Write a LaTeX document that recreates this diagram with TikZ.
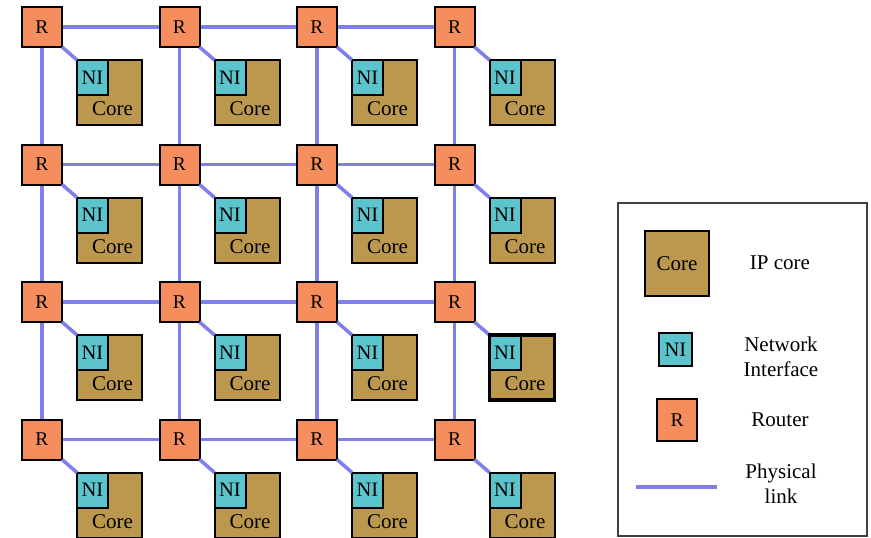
\documentclass[tikz,border=0pt]{standalone}
\usepackage{fontspec}
\setmainfont{Liberation Serif}
\definecolor{routerc}{RGB}{245,142,92}
\definecolor{nic}{RGB}{92,196,204}
\definecolor{corec}{RGB}{188,152,78}
\definecolor{linkc}{RGB}{126,126,236}
\tikzset{
  link/.style={draw=linkc, line width=3.5pt},
  router/.style={draw=black, fill=routerc, line width=2pt, minimum width=40pt, minimum height=40pt, inner sep=0pt, outer sep=0pt, font=\fontsize{19.5}{22}\selectfont},
  corebox/.style={draw=black, fill=corec, line width=2pt, minimum width=65pt, minimum height=65pt, inner sep=0pt, outer sep=0pt},
  nibox/.style={draw=black, fill=nic, line width=2pt, minimum width=31pt, minimum height=35pt, inner sep=0pt, outer sep=0pt, font=\fontsize{20.5}{22}\selectfont},
  lbl/.style={inner sep=0pt, font=\fontsize{21}{25}\selectfont, align=center},
}
\begin{document}
\begin{tikzpicture}[x=1pt,y=-1pt]
\useasboundingbox (0,0) rectangle (871,538);
\fill[white] (0,0) rectangle (871,538);
% router centres
\foreach \i in {0,...,3}{
  \foreach \j in {0,...,3}{
    \coordinate (c-\i-\j) at ({42+137.5*\j},{27+137.5*\i});
  }
}
% mesh links
\foreach \i in {0,...,3}{
  \foreach \j/\k in {0/1,1/2,2/3}{
    \draw[link] (c-\i-\j) -- (c-\i-\k);
    \draw[link] (c-\j-\i) -- (c-\k-\i);
  }
}
% tiles
\foreach \i in {0,...,3}{
  \foreach \j in {0,...,3}{
    \node[router] (r-\i-\j) at (c-\i-\j) {R};
    \node[corebox, anchor=north west] (core-\i-\j) at ([shift={(35,33)}]c-\i-\j) {};
    \node[nibox, anchor=north west] (ni-\i-\j) at (core-\i-\j.north west) {NI};
    \node[lbl] (ct-\i-\j) at ([shift={(70.5,82)}]c-\i-\j) {Core};
    \draw[link] (r-\i-\j.south east) -- (ni-\i-\j.north west);
  }
}
\draw[line width=3.2pt] (core-2-3.north west) rectangle (core-2-3.south east);
% legend
\node[draw=black!75, line width=1.3pt, minimum width=249pt, minimum height=333pt, anchor=north west, inner sep=0pt, outer sep=0pt] (legend) at (618,203) {};
\node[corebox, minimum width=64pt, font=\fontsize{21}{22}\selectfont] (lg-core) at (677,263.5) {Core};
\node[nibox, minimum width=33pt, minimum height=33pt] (lg-ni) at (675.5,349.5) {NI};
\node[router, minimum height=42pt] (lg-r) at (677,420) {R};
\coordinate (lg-la) at (636,487);
\coordinate (lg-lb) at (717,487);
\draw[link] (lg-la) -- (lg-lb);
\node[lbl] (lt-core) at (780,263) {IP core};
\node[lbl] (lt-ni) at (781,357) {Network\\Interface};
\node[lbl] (lt-r) at (780,420) {Router};
\node[lbl] (lt-link) at (781,484) {Physical\\link};
\end{tikzpicture}
\end{document}
